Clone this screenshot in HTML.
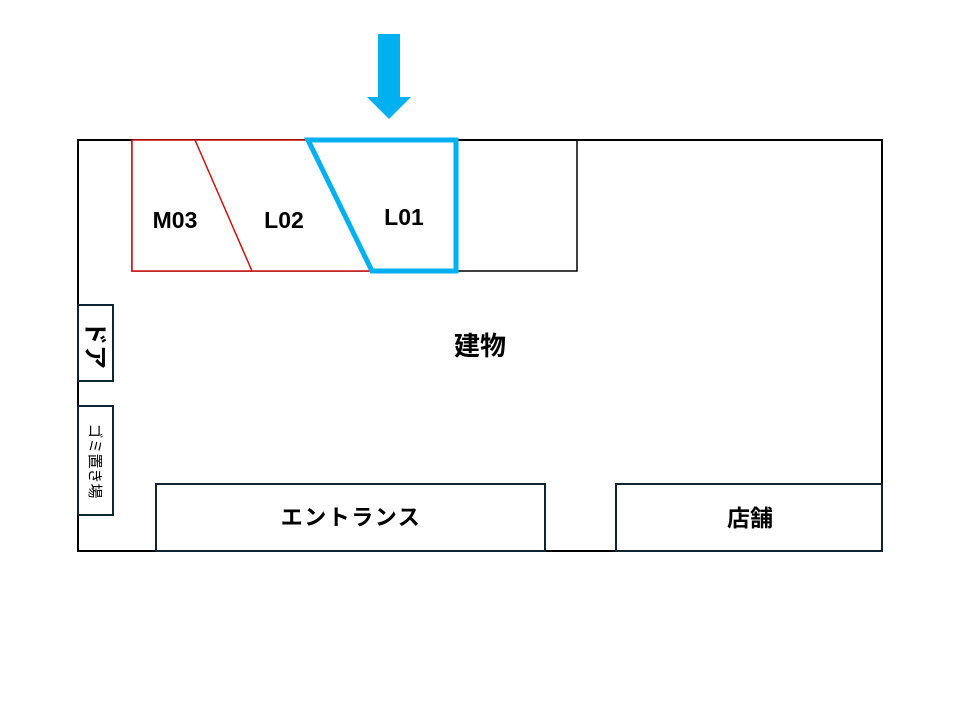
<!DOCTYPE html>
<html><head><meta charset="utf-8"><style>
html,body{margin:0;padding:0;background:#fff;width:960px;height:720px;overflow:hidden}
text{font-family:"Liberation Sans","Noto Sans CJK JP",sans-serif}
</style></head><body>
<svg width="960" height="720" xmlns="http://www.w3.org/2000/svg">
<rect x="78" y="140" width="804" height="411" fill="none" stroke="#000" stroke-width="2"/>
<rect x="132" y="140" width="445" height="131" fill="none" stroke="#000" stroke-width="1.5"/>
<polygon points="132,140 308,140 372,271 132,271" fill="#fff" stroke="#d01010" stroke-width="1.5"/>
<line x1="195" y1="140" x2="252" y2="271" stroke="#d01010" stroke-width="1.5"/>
<polygon points="308,140 456,140 456,271 372,271" fill="#fff" stroke="#00b0f0" stroke-width="5"/>
<polygon points="378,34 400,34 400,97 411,97 389,119 367,97 378,97" fill="#00b0f0"/>
<text x="175" y="228" font-size="23" font-weight="bold" text-anchor="middle">M03</text>
<text x="284" y="228" font-size="23" font-weight="bold" text-anchor="middle">L02</text>
<text x="404" y="225" font-size="23" font-weight="bold" text-anchor="middle">L01</text>
<text x="480" y="355" font-size="26" font-weight="bold" text-anchor="middle">建物</text>
<g stroke="#0f2530" stroke-width="2" fill="#fff">
<rect x="78" y="305" width="35" height="76"/>
<rect x="78" y="406" width="35" height="109"/>
<rect x="156" y="484" width="389" height="67"/>
<rect x="616" y="484" width="266" height="67"/>
</g>
<text x="351" y="525" font-size="22" font-weight="bold" text-anchor="middle" letter-spacing="1.5">エントランス</text>
<text x="750" y="526" font-size="23" font-weight="bold" text-anchor="middle">店舗</text>
<text transform="translate(87,345) rotate(90)" font-size="24" font-weight="bold" text-anchor="middle">ドア</text>
<text transform="translate(90,461) rotate(90)" font-size="15" text-anchor="middle">ゴミ置き場</text>
</svg>
</body></html>
